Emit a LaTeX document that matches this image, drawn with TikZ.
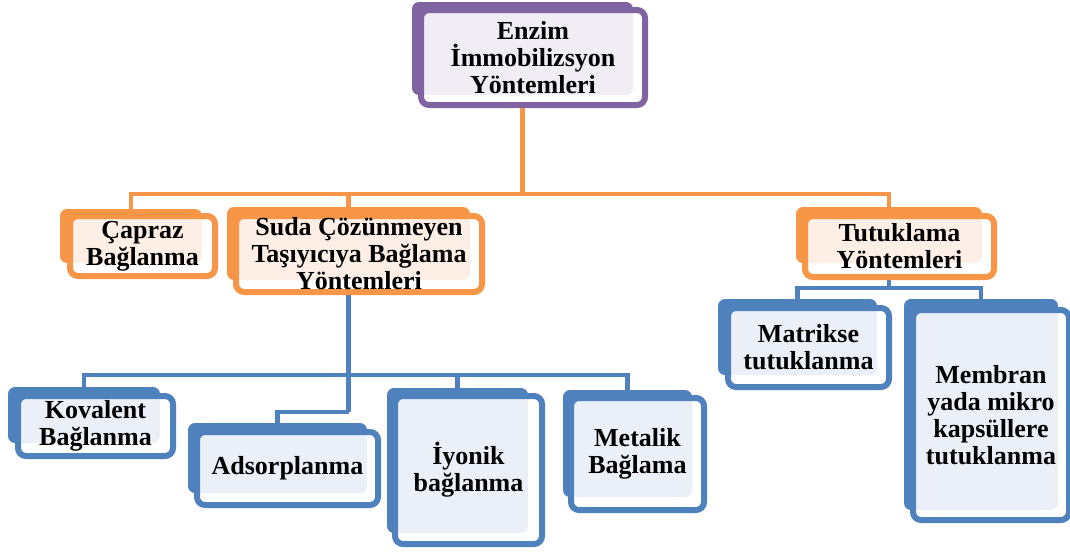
\documentclass[tikz,border=0pt]{standalone}
\usepackage{fontspec}
\setmainfont{Liberation Serif}
\usetikzlibrary{fit}
\definecolor{pcol}{HTML}{8064A2}
\definecolor{plite}{HTML}{F0EDF4}
\definecolor{ocol}{HTML}{F79646}
\definecolor{olite}{HTML}{FDEFE6}
\definecolor{bcol}{HTML}{4F81BD}
\definecolor{blite}{HTML}{EBF0F8}
\pgfdeclarelayer{bg}
\pgfsetlayers{bg,main}
\tikzset{
  txt/.style={align=center, inner sep=0pt, font=\fontsize{26}{27}\selectfont\bfseries},
  oconn/.style={draw=ocol, line width=4.5pt},
  bconn/.style={draw=bcol, line width=4.5pt},
}
\newcommand\tbox[7]{%
  \node[fit={(#3) (#4)}, inner sep=0pt, fill=#2col, rounded corners=7pt] (#1B) {};
  \node[fit={(#5) (#6)}, inner sep=0pt, fill=white, rounded corners=8pt] (#1F) {};
  \begin{scope}
    \clip[rounded corners=7pt] (#3) rectangle (#4);
    \fill[#2lite, rounded corners=8pt] (#5) rectangle (#6);
  \end{scope}
  \node[fit={(#5) (#6)}, inner sep=0pt, draw=#2col, line width=6pt, rounded corners=8pt] (#1S) {};
  \node[txt] (#1) at (#1F.center) {#7};
}
\begin{document}
\begin{tikzpicture}[x=1pt,y=-1pt]
\useasboundingbox (0,0) rectangle (1070,555);
\tbox{enz}{p}{412,2}{633,95}{421,10}{645,105}{Enzim\\İmmobilizsyon\\Yöntemleri}
\tbox{cap}{o}{60,209}{202,263}{70,216}{215,276}{Çapraz\\Bağlanma}
\tbox{sud}{o}{227,207}{470,280}{236,216}{482,292}{Suda Çözünmeyen\\Taşıyıcıya Bağlama\\Yöntemleri}
\tbox{tut}{o}{796,207}{982,263}{805,216}{994,277}{Tutuklama\\Yöntemleri}
\tbox{mat}{b}{718,299}{877,375}{728,308}{889,387}{Matrikse\\tutuklanma}
\tbox{mem}{b}{904,299}{1058,510}{913,310}{1069,520}{Membran\\yada mikro\\kapsüllere\\tutuklanma}
\tbox{kov}{b}{8,387}{160,443}{18,396}{173,456}{Kovalent\\Bağlanma}
\tbox{ads}{b}{188,423}{367,493}{197,432}{378,505}{Adsorplanma}
\tbox{iyo}{b}{387,388}{528,533}{395,396}{542,544}{İyonik\\bağlanma}
\tbox{met}{b}{563,390}{692,497}{571,398}{704,510}{Metalik\\Bağlama}
\coordinate (oj) at (enzB.south |- 0,194);
\coordinate (bj) at (sudB.south |- 0,375);
\coordinate (aj) at (sudB.south |- 0,412);
\coordinate (tj) at (tutB.south |- 0,288);
\begin{pgfonlayer}{bg}
  \draw[oconn] (enzB.south) -- (oj);
  \draw[oconn] (capB.north) |- (oj);
  \draw[oconn] (sudB.north) |- (oj);
  \draw[oconn] (tutB.north) |- (oj);
  \draw[bconn] (sudB.south) -- (aj);
  \draw[bconn] (adsB.north) |- (aj);
  \draw[bconn] (kovB.north) |- (bj);
  \draw[bconn] (iyoB.north) |- (bj);
  \draw[bconn] (metB.north) |- (bj);
  \draw[bconn] (tutB.south) -- (tj);
  \draw[bconn] (matB.north) |- (tj);
  \draw[bconn] (memB.north) |- (tj);
\end{pgfonlayer}
\end{tikzpicture}
\end{document}
